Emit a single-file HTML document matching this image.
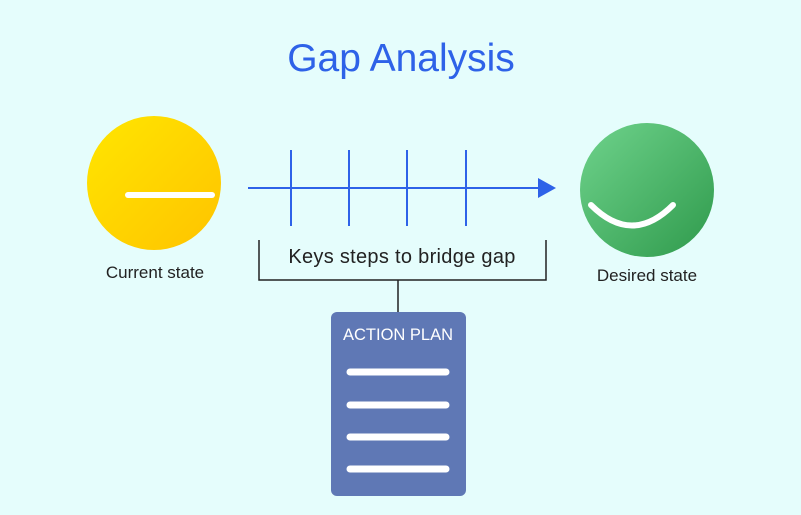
<!DOCTYPE html>
<html><head><meta charset="utf-8"><style>
html,body{margin:0;padding:0;background:#e5fdfc;}
svg{display:block;font-family:"Liberation Sans",sans-serif;}
</style></head><body>
<svg width="801" height="515" viewBox="0 0 801 515" xmlns="http://www.w3.org/2000/svg">
<defs>
<linearGradient id="y" x1="0" y1="0" x2="1" y2="1"><stop offset="0" stop-color="#ffe600"/><stop offset="1" stop-color="#ffc300"/></linearGradient>
<linearGradient id="g" x1="0" y1="0" x2="1" y2="1"><stop offset="0" stop-color="#6fd38c"/><stop offset="1" stop-color="#2f9a4c"/></linearGradient>
</defs>
<rect width="801" height="515" fill="#e5fdfc"/>
<text x="401" y="71" text-anchor="middle" font-size="39" fill="#2e62e8">Gap Analysis</text>
<circle cx="154" cy="183" r="67" fill="url(#y)"/>
<line x1="128" y1="195" x2="212" y2="195" stroke="#fff" stroke-width="6" stroke-linecap="round"/>
<text x="155" y="278" text-anchor="middle" font-size="17" fill="#222">Current state</text>
<circle cx="647" cy="190" r="67" fill="url(#g)"/>
<path d="M591 205 Q632 246 673 205" fill="none" stroke="#fff" stroke-width="6" stroke-linecap="round"/>
<text x="647" y="281" text-anchor="middle" font-size="17" fill="#222">Desired state</text>
<line x1="248" y1="188" x2="542" y2="188" stroke="#2e62e8" stroke-width="2"/>
<polygon points="538,178 556,188 538,198" fill="#2e62e8"/>
<g stroke="#2e62e8" stroke-width="2">
<line x1="291" y1="150" x2="291" y2="226"/><line x1="349" y1="150" x2="349" y2="226"/>
<line x1="407" y1="150" x2="407" y2="226"/><line x1="466" y1="150" x2="466" y2="226"/>
</g>
<path d="M259 240 V280 H546 V240 M398 280 V312" fill="none" stroke="#222" stroke-width="1.5"/>
<text x="402" y="263" text-anchor="middle" font-size="20" letter-spacing="0.3" fill="#222">Keys steps to bridge gap</text>
<rect x="331" y="312" width="135" height="184" rx="6" fill="#5f78b5"/>
<text x="398" y="340" text-anchor="middle" font-size="16.5" fill="#fff">ACTION PLAN</text>
<g stroke="#fff" stroke-width="7" stroke-linecap="round">
<line x1="350" y1="372" x2="446" y2="372"/><line x1="350" y1="405" x2="446" y2="405"/>
<line x1="350" y1="437" x2="446" y2="437"/><line x1="350" y1="469" x2="446" y2="469"/>
</g>
</svg>
</body></html>
